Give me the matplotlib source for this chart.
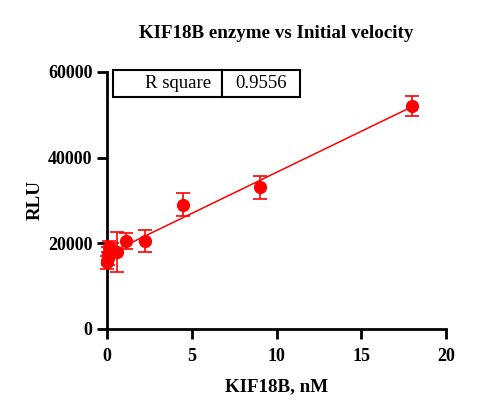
import numpy as np
import matplotlib
matplotlib.use("Agg")
import matplotlib.pyplot as plt

# data
conc = [18, 9, 4.5, 2.25, 1.125, 0.5625, 0.28125, 0.140625, 0.0703, 0.0352, 0]
rlu = [52000, 33000, 29000, 20500, 20500, 18000, 18500, 19000, 17500, 16500, 15500]
err = [2400, 2600, 2700, 2500, 1800, 4700, 1500, 1500, 1500, 1500, 1500]
r_square = "0.9556"

plt.rcParams['font.family'] = ['Liberation Serif', 'DejaVu Serif']
red = '#FF0000'

fig = plt.figure(figsize=(5, 4.2), dpi=100)
ax = fig.add_axes([0.214, 0.217, 0.678, 0.612])

# linear fit
slope, intercept = np.polyfit(conc, rlu, 1)
xs = np.array([0, max(conc)])
ax.plot(xs, slope * xs + intercept, color=red, lw=1.1, zorder=2)

ax.errorbar(conc, rlu, yerr=err, fmt='o', color=red, ms=8.5, ecolor=red,
            elinewidth=1.2, capsize=5, capthick=1.2, zorder=3, clip_on=False)

ax.set_xlim(0, 20)
ax.set_ylim(0, 60000)
ax.set_xticks([0, 5, 10, 15, 20])
ax.set_yticks([0, 20000, 40000, 60000])
for s in ['top', 'right']:
    ax.spines[s].set_visible(False)
for s in ['left', 'bottom']:
    ax.spines[s].set_linewidth(2)
ax.tick_params(width=2, length=7, labelsize=13)
ax.tick_params(axis='x', pad=7)
for lab in ax.get_xticklabels() + ax.get_yticklabels():
    lab.set_fontweight('bold')

ax.set_xlabel('KIF18B, nM', fontsize=13.7, fontweight='bold', labelpad=9)
ax.set_ylabel('RLU', fontsize=13.7, fontweight='bold', labelpad=3)
ax.set_title('KIF18B enzyme vs Initial velocity', fontsize=13.7,
             fontweight='bold', pad=24)

tbl = ax.table(cellText=[['R square', r_square]], colWidths=[109, 78],
               cellLoc='right', bbox=[0.018, 0.903, 0.552, 0.105])
tbl.auto_set_font_size(False)
for (r, c), cell in tbl.get_celld().items():
    cell.set_linewidth(1.5)
    cell.get_text().set_fontsize(13.5)
    if c == 1:
        cell.get_text().set_horizontalalignment('center')

fig.savefig('out.png', dpi=100)
